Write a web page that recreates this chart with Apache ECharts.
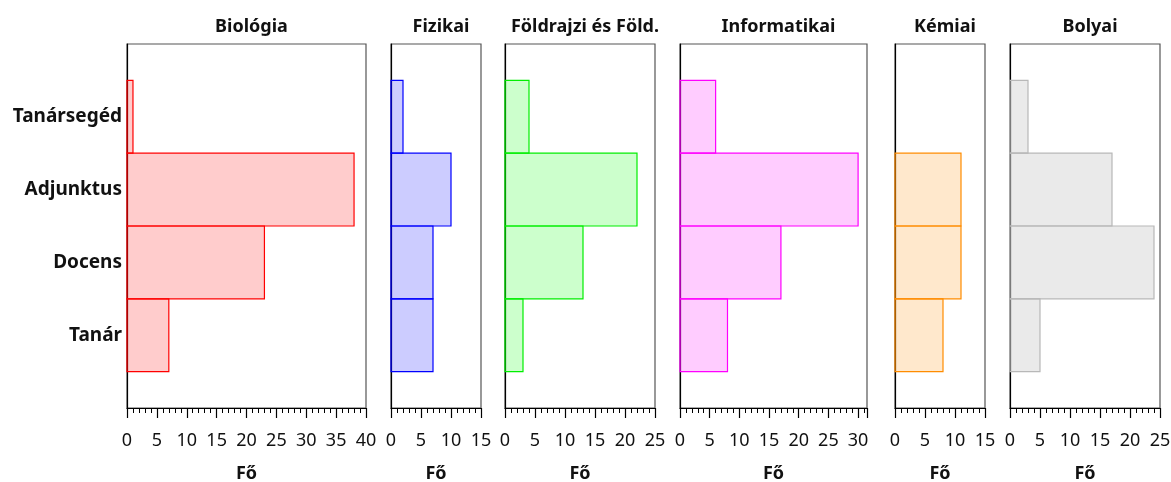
<!DOCTYPE html>
<html>
<head>
<meta charset="utf-8">
<script src="https://cdn.jsdelivr.net/npm/echarts@6/dist/echarts.min.js"></script>
<style>
  html,body{margin:0;padding:0;background:#fff;}
  #main{width:1171px;height:482px;}
</style>
</head>
<body>
<div id="main"></div>
<script>
// kategóriák alulról felfelé
var categories = ['Tanár', 'Docens', 'Adjunktus', 'Tanársegéd'];
var departments = ['Biológia', 'Fizikai', 'Földrajzi és Föld.', 'Informatikai', 'Kémiai', 'Bolyai'];

var biologia = [7, 23, 38, 1];
var fizikai = [7, 7, 10, 2];
var foldrajzi = [3, 13, 22, 4];
var informatikai = [8, 17, 30, 6];
var kemiai = [8, 11, 11, 0];
var bolyai = [5, 24, 17, 3];
var seriesValues = [biologia, fizikai, foldrajzi, informatikai, kemiai, bolyai];

var axisMax = [40, 15, 25, 31.5, 15, 25];
var xName = 'Fő';

var strokes = ['#ff0000', '#0000ff', '#00ee00', '#ff00ff', '#ff8c00', '#b8b8b8'];
var fills = ['rgba(255,0,0,0.2)', 'rgba(0,0,255,0.2)', 'rgba(0,255,0,0.2)', 'rgba(255,0,255,0.2)', 'rgba(255,140,0,0.2)', 'rgba(150,150,150,0.2)'];

// panel pozíciók (px)
var lefts = [127, 391, 505, 680, 895, 1010];
var widths = [239, 90, 150, 187, 90, 150];

var chart = echarts.init(document.getElementById('main'));
var font = '"Noto Sans", "DejaVu Sans", sans-serif';

var grids = [], xAxes = [], yAxes = [], series = [], titles = [];
for (var i = 0; i < 6; i++) {
  grids.push({left: lefts[i], top: 44, width: widths[i], height: 364,
    outerBoundsMode: 'none', containLabel: false,
    show: true, borderColor: '#555', borderWidth: 1.2});
  titles.push({text: departments[i], left: lefts[i] + widths[i] / 2, top: 13, textAlign: 'center',
    textStyle: {fontFamily: font, fontSize: 18, fontWeight: 'bold', color: '#111'}});
  xAxes.push({
    type: 'value', gridIndex: i, min: 0, max: axisMax[i], interval: 5,
    name: xName, nameLocation: 'middle', nameGap: 57,
    nameTextStyle: {fontFamily: font, fontSize: 18, fontWeight: 'bold', color: '#111'},
    axisLine: {show: true, onZero: false, lineStyle: {color: '#000', width: 1.2}},
    axisTick: {show: true, length: 10, lineStyle: {color: '#000', width: 1.2}},
    minorTick: {show: true, splitNumber: 5, length: 5, lineStyle: {color: '#000'}},
    splitLine: {show: false},
    axisLabel: {fontFamily: font, fontSize: 18, color: '#111', margin: 24,
      formatter: function (v) { return v % 5 === 0 ? v : ''; }}
  });
  yAxes.push({
    type: 'value', gridIndex: i, min: -1, max: 4, interval: 1,
    axisLine: {show: true, onZero: false, lineStyle: {color: '#000', width: 1.2}},
    axisTick: {show: false},
    splitLine: {show: false},
    axisLabel: {show: i === 0, fontFamily: font, fontSize: 19, fontWeight: 'bold', color: '#111', margin: 5,
      formatter: function (v) { return categories[v] || ''; }}
  });
  var data = seriesValues[i].map(function (v, k) { return [v, k]; });
  series.push({
    type: 'custom', xAxisIndex: i, yAxisIndex: i, data: data,
    encode: {x: 0, y: 1},
    renderItem: (function (fill, stroke) {
      return function (params, api) {
        if (!api.value(0)) return null;
        var a = api.coord([0, api.value(1) + 0.5]);
        var b = api.coord([api.value(0), api.value(1) - 0.5]);
        return {type: 'rect', shape: {x: a[0], y: a[1], width: b[0] - a[0], height: b[1] - a[1]},
          style: {fill: fill, stroke: stroke, lineWidth: 1.2}};
      };
    })(fills[i], strokes[i])
  });
}

chart.setOption({
  animation: false,
  title: titles,
  grid: grids,
  xAxis: xAxes,
  yAxis: yAxes,
  series: series
});
</script>
</body>
</html>
